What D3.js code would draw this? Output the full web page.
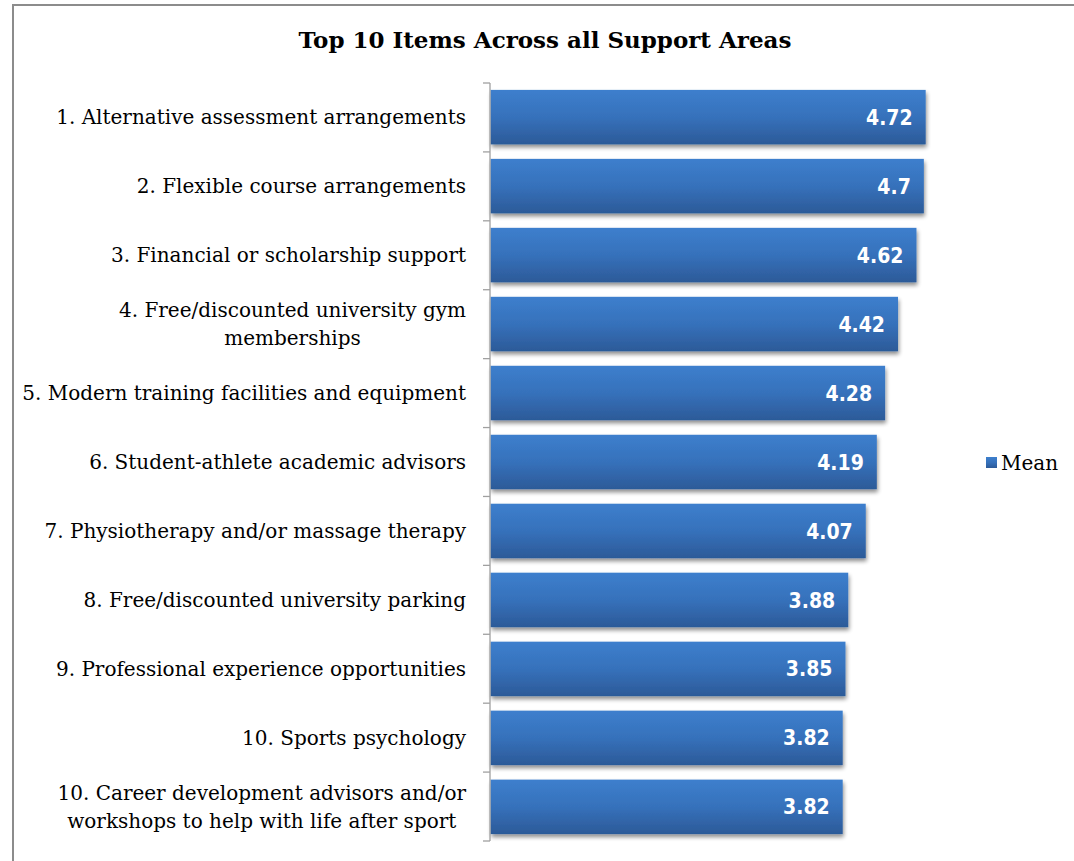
<!DOCTYPE html>
<html>
<head>
<meta charset="utf-8">
<script src="https://cdn.jsdelivr.net/npm/d3@7"></script>
<style>
  html, body { margin: 0; padding: 0; background: #fff; }
  svg { display: block; }
</style>
</head>
<body>
<script>
// Support items ranked by mean rating
const categories = [
  "1. Alternative assessment arrangements",
  "2. Flexible course arrangements",
  "3. Financial or scholarship support",
  "4. Free/discounted university gym memberships",
  "5. Modern training facilities and equipment",
  "6. Student-athlete academic advisors",
  "7. Physiotherapy and/or massage therapy",
  "8. Free/discounted university parking",
  "9. Professional experience opportunities",
  "10. Sports psychology",
  "10. Career development advisors and/or workshops to help with life after sport"
];
const meanValues = [4.72, 4.7, 4.62, 4.42, 4.28, 4.19, 4.07, 3.88, 3.85, 3.82, 3.82];
const seriesName = "Mean";
const chartTitle = "Top 10 Items Across all Support Areas";

const W = 1074, H = 861;
const labelFont = "'DejaVu Serif', 'Liberation Serif', serif";

const svg = d3.select("body").append("svg")
  .attr("width", W).attr("height", H);

const defs = svg.append("defs");
const grad = defs.append("linearGradient")
  .attr("id", "barFill").attr("x1", 0).attr("y1", 0).attr("x2", 0).attr("y2", 1);
grad.append("stop").attr("offset", "0%").attr("stop-color", "#3d7fcd");
grad.append("stop").attr("offset", "50%").attr("stop-color", "#3671bb");
grad.append("stop").attr("offset", "100%").attr("stop-color", "#2c5a98");

const shadow = defs.append("filter").attr("id", "barShadow")
  .attr("x", "-5%").attr("y", "-20%").attr("width", "110%").attr("height", "160%");
shadow.append("feGaussianBlur").attr("in", "SourceAlpha").attr("stdDeviation", 2.2).attr("result", "b");
shadow.append("feOffset").attr("in", "b").attr("dx", 1).attr("dy", 3).attr("result", "o");
shadow.append("feComponentTransfer").attr("in", "o").attr("result", "s")
  .append("feFuncA").attr("type", "linear").attr("slope", 0.45);
const merge = shadow.append("feMerge");
merge.append("feMergeNode").attr("in", "s");
merge.append("feMergeNode").attr("in", "SourceGraphic");

// chart frame
svg.append("rect")
  .attr("x", 13).attr("y", 5).attr("width", W + 20).attr("height", H + 20)
  .attr("fill", "#fff").attr("stroke", "#8c8c8c").attr("stroke-width", 2);

// title
svg.append("text")
  .attr("x", 545).attr("y", 48)
  .attr("text-anchor", "middle")
  .attr("font-family", labelFont)
  .attr("font-weight", "bold")
  .attr("font-size", 23)
  .attr("fill", "#000")
  .text(chartTitle);

const x = d3.scaleLinear().domain([0, 5]).range([490.5, 951.5]);
const y = d3.scaleBand().domain(categories).range([83, 841])
  .paddingInner(0.21).paddingOuter(0.1);

// bars
svg.append("g").selectAll("rect")
  .data(meanValues)
  .join("rect")
  .attr("x", x(0))
  .attr("y", (d, i) => y(categories[i]))
  .attr("width", d => x(d) - x(0))
  .attr("height", y.bandwidth())
  .attr("fill", "url(#barFill)")
  .attr("filter", "url(#barShadow)");

// category axis: line with ticks between categories
const boundaries = d3.range(categories.length + 1).map(i => 83 + i * (758 / categories.length));
const axisG = svg.append("g").attr("stroke", "#a0a0a0").attr("stroke-width", 1.3);
axisG.append("line")
  .attr("x1", 490).attr("x2", 490).attr("y1", 83).attr("y2", 841);
axisG.selectAll("line.tick").data(boundaries).join("line")
  .attr("class", "tick")
  .attr("x1", 483).attr("x2", 490)
  .attr("y1", d => d).attr("y2", d => d);

// category labels, wrapped and right-aligned as a block
const labelRight = 466, labelSize = 20, lineGap = 28, wrapWidth = 458;
const labelG = svg.append("g")
  .attr("font-family", labelFont).attr("font-size", labelSize).attr("fill", "#000");

categories.forEach(cat => {
  const t = labelG.append("text").attr("text-anchor", "middle");
  const words = cat.split(" ");
  const lines = [];
  let cur = [];
  const probe = t.append("tspan");
  words.forEach(w => {
    const trial = cur.concat([w]).join(" ");
    probe.text(trial);
    if (probe.node().getComputedTextLength() > wrapWidth && cur.length) {
      lines.push(cur.join(" "));
      cur = [w];
    } else {
      cur.push(w);
    }
  });
  lines.push(cur.join(" "));
  const lw = lines.map(l => { probe.text(l); return probe.node().getComputedTextLength(); });
  probe.remove();
  const blockW = d3.max(lw);
  const cx = labelRight - blockW / 2;
  const cy = y(cat) + y.bandwidth() / 2;
  const firstY = cy - (lines.length - 1) * lineGap / 2;
  lines.forEach((l, i) => {
    t.append("tspan")
      .attr("x", cx)
      .attr("y", firstY + i * lineGap)
      .attr("dy", "0.36em")
      .text(l);
  });
});

// value labels inside bar ends
svg.append("g").selectAll("text")
  .data(meanValues)
  .join("text")
  .attr("x", d => x(d) - 13)
  .attr("y", (d, i) => y(categories[i]) + y.bandwidth() / 2)
  .attr("dy", "0.36em")
  .attr("text-anchor", "end")
  .attr("font-family", "'DejaVu Sans Condensed', 'Liberation Sans Narrow', 'DejaVu Sans', sans-serif")
  .attr("font-stretch", "condensed")
  .attr("font-weight", "bold")
  .attr("font-size", 21)
  .attr("fill", "#fff")
  .text(d => d);

// legend
const lg = svg.append("g");
lg.append("rect")
  .attr("x", 986).attr("y", 457).attr("width", 11).attr("height", 11)
  .attr("fill", "url(#barFill)");
lg.append("text")
  .attr("x", 1001).attr("y", 463).attr("dy", "0.36em")
  .attr("font-family", labelFont).attr("font-size", 20).attr("fill", "#000")
  .text(seriesName);
</script>
</body>
</html>
